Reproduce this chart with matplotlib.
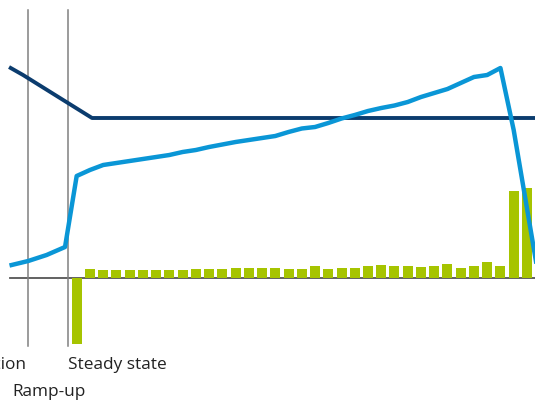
import matplotlib
matplotlib.use("Agg")
import matplotlib.pyplot as plt

# bar values (one per period, steady state starts at 0)
bar_x = list(range(35))
bar_vals = [-66, 9, 8, 8, 8, 8, 8, 8, 8, 9, 9, 9, 10, 10, 10, 10, 9, 9, 12, 9,
            10, 10, 12, 13, 12, 12, 11, 12, 14, 10, 12, 16, 12, 87, 90]

# dark line
dark_x = [-4.98, -4.05, 1.16, 36]
dark_y = [210, 203, 160, 160]

# light blue line
blue_x = [-4.91, -3.66, -2.27, -0.88] + list(range(36))
blue_y = [13, 17, 23, 31,
          102, 108, 113, 115, 117, 119, 121, 123, 126, 128, 131, 133.5, 136, 138,
          140, 142, 146, 149.5, 151, 155, 159.5, 163, 167, 170, 172.5, 176, 181,
          185, 189, 195, 201, 203, 210, 148, 70, -8]

phase_lines = [-3.68, -0.66]
labels = ["Construction", "Steady state", "Ramp-up"]

fig = plt.figure(figsize=(5.35, 4.02), dpi=100)
ax = fig.add_axes([0, 0, 1, 1])

ax.bar(bar_x, bar_vals, width=0.755, color="#a6c400", zorder=2)
ax.plot([-5.05, 36], [0, 0], color="#555555", lw=1.3, zorder=1)
for xv in phase_lines:
    ax.plot([xv, xv], [268, -68], color="#808080", lw=1.1, zorder=1)

ax.plot(dark_x, dark_y, color="#0b3c6e", lw=2.8, zorder=3)
ax.plot(blue_x, blue_y, color="#0a96d6", lw=3.2, zorder=4)

font = "Open Sans"
fs = 12.4
ax.text(-3.83, -86, labels[0], ha="right", va="center", fontsize=fs, family=font, color="#222222")
ax.text(-0.62, -86, labels[1], ha="left", va="center", fontsize=fs, family=font, color="#222222")
ax.text(-4.89, -113, labels[2], ha="left", va="center", fontsize=fs, family=font, color="#222222")

ax.set_xlim(-5.79, 34.61)
ax.set_ylim(-123, 279)
ax.axis("off")

fig.savefig("out.png", dpi=100)
